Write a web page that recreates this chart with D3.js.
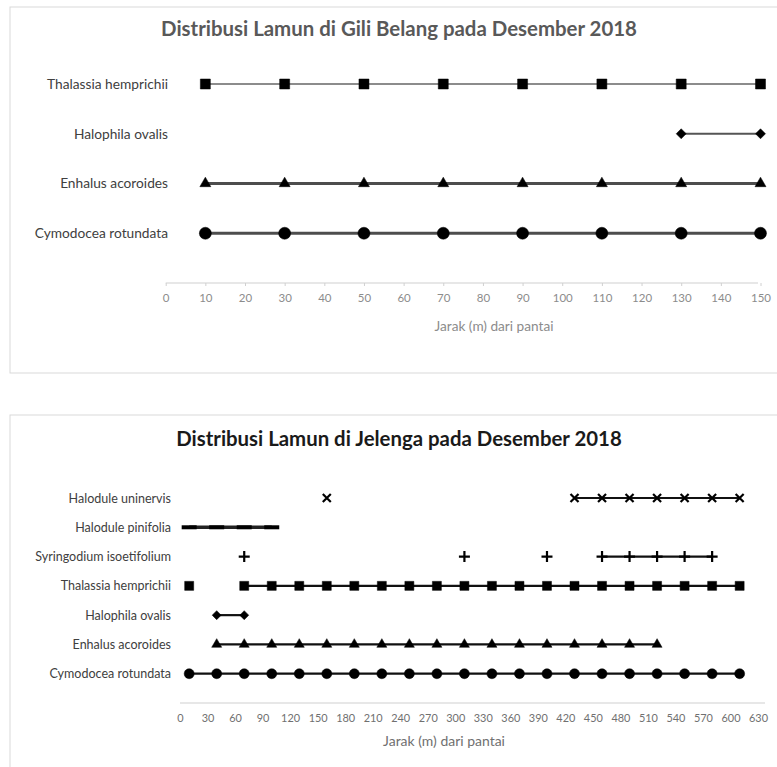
<!DOCTYPE html>
<html>
<head>
<meta charset="utf-8">
<script src="https://cdn.jsdelivr.net/npm/d3@7"></script>
<style>
  body { margin: 0; background: #fff; }
  svg { display: block; }
  text { font-family: Lato, "Noto Sans", sans-serif; }
</style>
</head>
<body>
<div id="chart"></div>
<script>
// --- DATA: Gili Belang ---
const giliSpecies = ["Cymodocea rotundata", "Enhalus acoroides", "Halophila ovalis", "Thalassia hemprichii"];
const giliDistance = [10, 30, 50, 70, 90, 110, 130, 150];
const giliCymodocea = [1, 1, 1, 1, 1, 1, 1, 1];
const giliEnhalus = [2, 2, 2, 2, 2, 2, 2, 2];
const giliHalophila = [null, null, null, null, null, null, 3, 3];
const giliThalassia = [4, 4, 4, 4, 4, 4, 4, 4];
const giliTicks = [0, 10, 20, 30, 40, 50, 60, 70, 80, 90, 100, 110, 120, 130, 140, 150];

// --- DATA: Jelenga ---
const jelengaSpecies = ["Cymodocea rotundata", "Enhalus acoroides", "Halophila ovalis", "Thalassia hemprichii",
  "Syringodium isoetifolium", "Halodule pinifolia", "Halodule uninervis"];
const jelengaDistance = [10, 40, 70, 100, 130, 160, 190, 220, 250, 280, 310, 340, 370, 400, 430, 460, 490, 520, 550, 580, 610];
const jelengaCymodocea = [1, 1, 1, 1, 1, 1, 1, 1, 1, 1, 1, 1, 1, 1, 1, 1, 1, 1, 1, 1, 1];
const jelengaEnhalus = [null, 2, 2, 2, 2, 2, 2, 2, 2, 2, 2, 2, 2, 2, 2, 2, 2, 2, null, null, null];
const jelengaHalophila = [null, 3, 3, null, null, null, null, null, null, null, null, null, null, null, null, null, null, null, null, null, null];
const jelengaThalassia = [4, null, 4, 4, 4, 4, 4, 4, 4, 4, 4, 4, 4, 4, 4, 4, 4, 4, 4, 4, 4];
const jelengaSyringodium = [null, null, 5, null, null, null, null, null, null, null, 5, null, null, 5, null, 5, 5, 5, 5, 5, null];
const jelengaPinifolia = [6, 6, 6, 6, null, null, null, null, null, null, null, null, null, null, null, null, null, null, null, null, null];
const jelengaUninervis = [null, null, null, null, null, 7, null, null, null, null, null, null, null, null, 7, 7, 7, 7, 7, 7, 7];
const jelengaTicks = [0, 30, 60, 90, 120, 150, 180, 210, 240, 270, 300, 330, 360, 390, 420, 450, 480, 510, 540, 570, 600, 630];

const svg = d3.select("#chart").append("svg")
  .attr("width", 777)
  .attr("height", 767);

// shrink or grow a text group so a reference string gets the width seen in the picture
function fitSize(sel, refNode, targetW) {
  const fs = parseFloat(d3.select(refNode).attr("font-size"));
  const w = refNode.getComputedTextLength();
  sel.attr("font-size", fs * targetW / w);
}

// marker shapes (custom ones for the Excel plus / times / dash)
function markerPath(type, s) {
  const h = s / 2;
  if (type === "square") return d3.symbol(d3.symbolSquare, s * s)();
  if (type === "circle") return d3.symbol(d3.symbolCircle, Math.PI * h * h)();
  if (type === "triangle") return d3.symbol(d3.symbolTriangle, Math.sqrt(3) / 4 * s * s)();
  if (type === "diamond") return `M0,${-h}L${h},0L0,${h}L${-h},0Z`;
  if (type === "plus") return `M${-h},0H${h}M0,${-h}V${h}`;
  if (type === "times") return `M${-h},${-h}L${h},${h}M${h},${-h}L${-h},${h}`;
  if (type === "dash") return `M${-h},0H${h}`;
}
const strokeMarkers = ["plus", "times", "dash"];

function drawChart(cfg) {
  const g = svg.append("g");

  // frame
  g.append("rect")
    .attr("x", cfg.frame[0]).attr("y", cfg.frame[1])
    .attr("width", cfg.frame[2]).attr("height", cfg.frame[3])
    .attr("fill", "#fff").attr("stroke", "#d9d9d9").attr("stroke-width", 1);

  const x = d3.scaleLinear().domain(cfg.xDomain).range(cfg.xRange);
  const y = d3.scaleLinear().domain([0, cfg.species.length]).range(cfg.yRange);

  // title
  const title = g.append("text")
    .attr("x", cfg.titleX).attr("y", cfg.titleY)
    .attr("text-anchor", "middle")
    .attr("font-size", 16).attr("font-weight", "bold")
    .attr("fill", cfg.titleColor)
    .text(cfg.title);
  fitSize(title, title.node(), cfg.titleW);

  // x axis
  const xAxis = g.append("g")
    .attr("transform", `translate(0,${y(0)})`)
    .call(d3.axisBottom(x).tickValues(cfg.ticks).tickSize(cfg.tickSize).tickPadding(cfg.tickPad).tickSizeOuter(0));
  xAxis.select(".domain").attr("stroke", "#d0d0d0").attr("stroke-width", 1.2)
    .attr("d", `M${cfg.axisEnds[0]},0H${cfg.axisEnds[1]}`);
  xAxis.selectAll(".tick line").attr("stroke", "#d0d0d0");
  const tickTexts = xAxis.selectAll(".tick text")
    .attr("fill", cfg.tickColor).attr("font-size", 10);
  const refTick = tickTexts.filter(d => d === cfg.tickRef[0]).node();
  fitSize(tickTexts, refTick, cfg.tickRef[1]);

  // x axis title
  const xt = g.append("text")
    .attr("x", cfg.xTitle[0]).attr("y", cfg.xTitle[1])
    .attr("text-anchor", "middle")
    .attr("font-size", 10).attr("fill", cfg.tickColor)
    .text("Jarak (m) dari pantai");
  fitSize(xt, xt.node(), cfg.xTitle[2]);

  // category labels
  const yAxis = g.append("g")
    .attr("transform", `translate(${cfg.labelRight},0)`)
    .call(d3.axisLeft(y)
      .tickValues(d3.range(1, cfg.species.length + 1))
      .tickFormat(d => cfg.species[d - 1])
      .tickSize(0).tickPadding(0));
  yAxis.select(".domain").remove();
  const labels = yAxis.selectAll(".tick text")
    .attr("fill", cfg.labelColor).attr("font-size", 10)
    .attr("font-family", null);
  const refLabel = labels.filter(d => cfg.species[d - 1] === cfg.labelRef[0]).node();
  fitSize(labels, refLabel, cfg.labelRef[1]);

  // series
  const line = d3.line()
    .defined(d => d.v != null)
    .x(d => x(d.x))
    .y(d => y(d.v));

  cfg.series.forEach(s => {
    const pts = cfg.distance.map((dx, i) => ({ x: dx, v: s.values[i] }));
    g.append("path")
      .datum(pts)
      .attr("d", line)
      .attr("fill", "none")
      .attr("stroke", s.lineColor)
      .attr("stroke-width", s.lineWidth);

    const isStroke = strokeMarkers.includes(s.marker);
    g.selectAll(null)
      .data(pts.filter(d => d.v != null))
      .enter()
      .append("path")
      .attr("transform", d => `translate(${x(d.x)},${y(d.v)})`)
      .attr("d", markerPath(s.marker, s.size))
      .attr("fill", isStroke ? "none" : "#000")
      .attr("stroke", "#000")
      .attr("stroke-width", isStroke ? s.markerStroke : 0.5);
  });
}

// --- CHART 1: Gili Belang ---
drawChart({
  frame: [10, 7, 775, 366],
  title: "Distribusi Lamun di Gili Belang pada Desember 2018",
  titleX: 399, titleY: 36, titleW: 476, titleColor: "#595959",
  species: giliSpecies,
  distance: giliDistance,
  xDomain: [0, 150], xRange: [165.7, 760.5],
  yRange: [283, 84],
  ticks: giliTicks, tickSize: 3, tickPad: 8, tickColor: "#8c8c8c", tickRef: [100, 20],
  axisEnds: [165.7, 758],
  xTitle: [494, 331, 119],
  labelRight: 168, labelColor: "#404040", labelRef: ["Thalassia hemprichii", 121],
  series: [
    { values: giliCymodocea, marker: "circle", size: 12, lineColor: "#4d4d4d", lineWidth: 3 },
    { values: giliEnhalus, marker: "triangle", size: 11, lineColor: "#4d4d4d", lineWidth: 3 },
    { values: giliHalophila, marker: "diamond", size: 10, lineColor: "#555", lineWidth: 2.2 },
    { values: giliThalassia, marker: "square", size: 10, lineColor: "#666", lineWidth: 1.5 }
  ]
});

// --- CHART 2: Jelenga ---
drawChart({
  frame: [10, 415, 775, 360],
  title: "Distribusi Lamun di Jelenga pada Desember 2018",
  titleX: 399, titleY: 446, titleW: 446, titleColor: "#1a1a1a",
  species: jelengaSpecies,
  distance: jelengaDistance,
  xDomain: [0, 630], xRange: [180, 758],
  yRange: [703, 498],
  ticks: jelengaTicks, tickSize: 0, tickPad: 11, tickColor: "#707070", tickRef: [120, 19],
  axisEnds: [180, 765],
  xTitle: [444, 746, 122],
  labelRight: 171, labelColor: "#404040", labelRef: ["Syringodium isoetifolium", 136],
  series: [
    { values: jelengaCymodocea, marker: "circle", size: 10, lineColor: "#111", lineWidth: 2.2 },
    { values: jelengaEnhalus, marker: "triangle", size: 10, lineColor: "#111", lineWidth: 2.2 },
    { values: jelengaHalophila, marker: "diamond", size: 9, lineColor: "#111", lineWidth: 2.2 },
    { values: jelengaThalassia, marker: "square", size: 9, lineColor: "#111", lineWidth: 2.2 },
    { values: jelengaSyringodium, marker: "plus", size: 11, markerStroke: 2.2, lineColor: "#111", lineWidth: 2.2 },
    { values: jelengaPinifolia, marker: "dash", size: 15, markerStroke: 4, lineColor: "#222", lineWidth: 3.5 },
    { values: jelengaUninervis, marker: "times", size: 8, markerStroke: 2.2, lineColor: "#111", lineWidth: 2.2 }
  ]
});
</script>
</body>
</html>
